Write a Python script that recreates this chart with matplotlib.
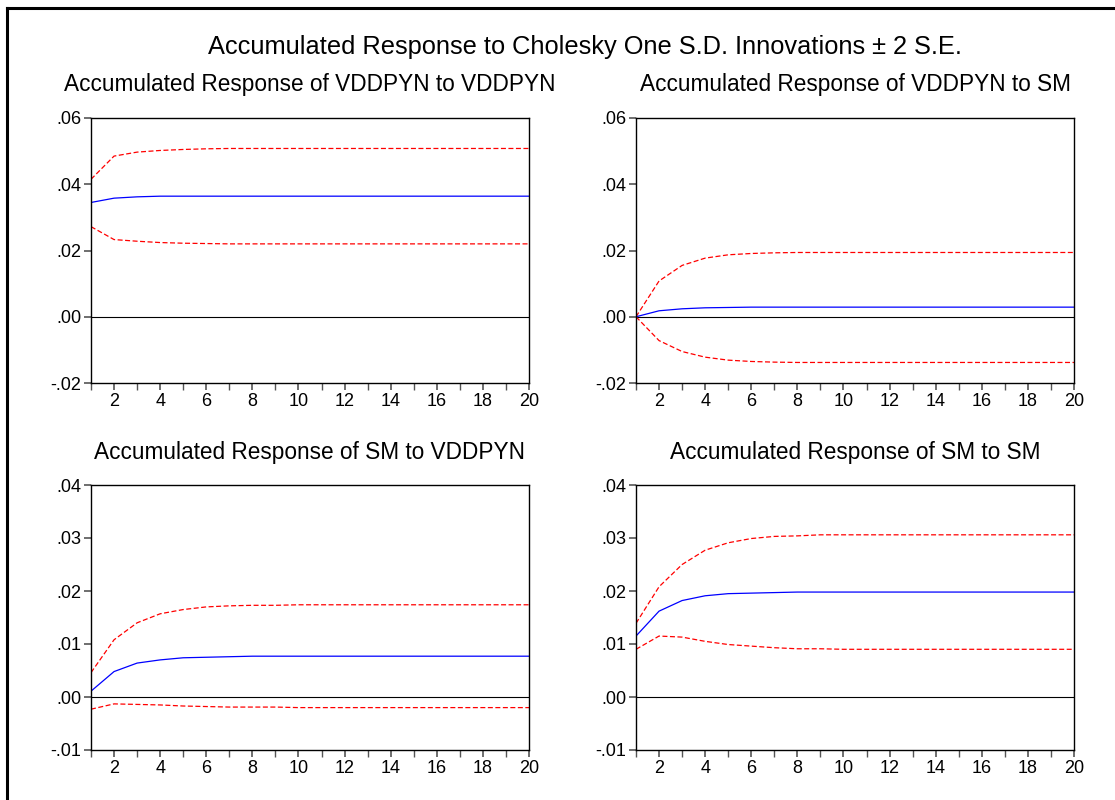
import matplotlib
matplotlib.use("Agg")
import matplotlib.pyplot as plt
from matplotlib.lines import Line2D
from matplotlib.ticker import MultipleLocator, FuncFormatter

plt.rcParams["font.family"] = ["Liberation Sans", "DejaVu Sans"]

periods = list(range(1, 21))

# VDDPYN to VDDPYN
vv_resp = [0.0345, 0.0358, 0.0362] + [0.0364] * 17
vv_upper = [0.0415, 0.0485, 0.0497, 0.0502, 0.0505, 0.0507] + [0.0508] * 14
vv_lower = [0.0272, 0.0233, 0.0228, 0.0224, 0.0222, 0.0221] + [0.0220] * 14

# VDDPYN to SM
vs_resp = [0.0, 0.0018, 0.0024, 0.0027, 0.0028] + [0.0029] * 15
vs_upper = [0.0, 0.0108, 0.0155, 0.0177, 0.0187, 0.0191, 0.0193] + [0.0194] * 13
vs_lower = [0.0, -0.0072, -0.0105, -0.0122, -0.0131, -0.0135, -0.0137] + [-0.0138] * 13

# SM to VDDPYN
sv_resp = [0.0011, 0.0048, 0.0064, 0.0070, 0.0074, 0.0075, 0.0076] + [0.0077] * 13
sv_upper = [0.0046, 0.0108, 0.0140, 0.0157, 0.0165, 0.0170, 0.0172, 0.0173, 0.0173] + [0.0174] * 11
sv_lower = [-0.0023, -0.0013, -0.0014, -0.0015, -0.0017, -0.0018, -0.0019, -0.0019, -0.0019] + [-0.0020] * 11

# SM to SM
ss_resp = [0.0115, 0.0162, 0.0182, 0.0191, 0.0195, 0.0196, 0.0197] + [0.0198] * 13
ss_upper = [0.0139, 0.0208, 0.0250, 0.0277, 0.0291, 0.0299, 0.0303, 0.0304, 0.0306] + [0.0306] * 11
ss_lower = [0.0090, 0.0115, 0.0113, 0.0105, 0.0099, 0.0096, 0.0093, 0.0091, 0.0091] + [0.0090] * 11

panels = [
    ("Accumulated Response of VDDPYN to VDDPYN", vv_resp, vv_upper, vv_lower, (-0.02, 0.06), 0.02),
    ("Accumulated Response of VDDPYN to SM", vs_resp, vs_upper, vs_lower, (-0.02, 0.06), 0.02),
    ("Accumulated Response of SM to VDDPYN", sv_resp, sv_upper, sv_lower, (-0.01, 0.04), 0.01),
    ("Accumulated Response of SM to SM", ss_resp, ss_upper, ss_lower, (-0.01, 0.04), 0.01),
]

W, H = 1115, 800
fig = plt.figure(figsize=(W / 100, H / 100), dpi=100)

# axes boxes in pixels: left, top, right, bottom
boxes = [(91, 118, 529, 383), (636, 118, 1074, 383),
         (91, 485, 529, 750), (636, 485, 1074, 750)]
title_y = [85, 85, 453, 453]


def fmt(v, pos):
    s = "%.2f" % v
    if s.startswith("-0"):
        return "-" + s[2:]
    if s.startswith("0"):
        return s[1:]
    return s


for (title, resp, upper, lower, ylim, step), (l, t, r, b), ty in zip(panels, boxes, title_y):
    ax = fig.add_axes([l / W, 1 - b / H, (r - l) / W, (b - t) / H])
    ax.axhline(0, color="black", lw=0.8)
    ax.plot(periods, upper, color="red", lw=0.9, ls=(0, (4, 2)))
    ax.plot(periods, lower, color="red", lw=0.9, ls=(0, (4, 2)))
    ax.plot(periods, resp, color="blue", lw=0.9)
    ax.set_xlim(1, 20)
    ax.set_ylim(*ylim)
    ax.xaxis.set_major_locator(MultipleLocator(2))
    ax.xaxis.set_minor_locator(MultipleLocator(1))
    ax.yaxis.set_major_locator(MultipleLocator(step))
    ax.yaxis.set_major_formatter(FuncFormatter(fmt))
    ax.tick_params(axis="both", which="major", direction="out", length=5, width=1.2,
                   color="#555555", labelsize=13, pad=2)
    ax.tick_params(axis="x", which="minor", direction="out", length=5, width=1.0,
                   color="#555555")
    ax.tick_params(axis="y", which="minor", length=0)
    for sp in ax.spines.values():
        sp.set_linewidth(1.0)
    fig.text((l + r) / 2 / W, 1 - ty / H, title, ha="center", va="center", fontsize=16.3)

fig.text(585 / W, 1 - 47 / H, "Accumulated Response to Cholesky One S.D. Innovations \u00b1 2 S.E.",
         ha="center", va="center", fontsize=18.3)

# outer frame lines (left and top)
fig.add_artist(Line2D([7 / W, 7 / W], [0, 1 - 8 / H], color="black", lw=2.2))
fig.add_artist(Line2D([7 / W, 1], [1 - 8 / H, 1 - 8 / H], color="black", lw=2.2))

fig.savefig("out.png", dpi=100)
